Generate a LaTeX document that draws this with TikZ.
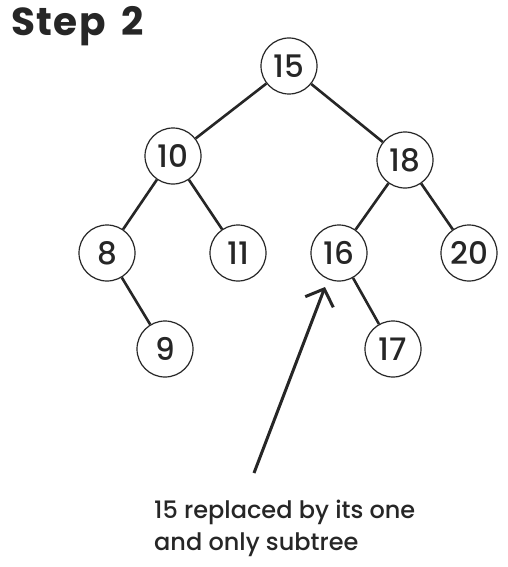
\documentclass[tikz,border=0pt]{standalone}
\usepackage{fontspec}
\setmainfont{Poppins}
\newfontfamily\medfont{Poppins Medium}
\usetikzlibrary{arrows.meta}
\definecolor{ink}{HTML}{262626}
\begin{document}
\begin{tikzpicture}[x=1pt,y=-1pt,
  treenode/.style={circle,draw=ink,line width=1.2pt,minimum size=56pt,inner sep=0pt,fill=white,text=ink,font=\medfont\fontsize{31}{31}\selectfont},
  edge/.style={draw=ink,line width=2.6pt},
  note/.style={anchor=base west,inner sep=0pt,text=ink,font=\medfont\fontsize{24}{24}\selectfont}]
\fill[white] (0,0) rectangle (508,567);
\useasboundingbox (0,0) rectangle (508,567);
\node[anchor=base west,inner sep=0pt,text=ink,font=\fontsize{39}{39}\bfseries] (title) at (11,36) {S\kern1.5pt t\kern1.5pt e\kern1.5pt p\ \kern7pt 2};
\node[treenode] (n15) at (289,66) {15};
\node[treenode] (n10) at (173,156) {10};
\node[treenode] (n18) at (405,160) {18};
\node[treenode] (n8) at (107,253) {8};
\node[treenode] (n11) at (238,253) {11};
\node[treenode] (n16) at (339,253) {16};
\node[treenode] (n20) at (469,253) {20};
\node[treenode] (n9) at (165,349) {9};
\node[treenode] (n17) at (393,349) {17};
\draw[edge] (n15) -- (n10);
\draw[edge] (n15) -- (n18);
\draw[edge] (n10) -- (n8);
\draw[edge] (n10) -- (n11);
\draw[edge] (n18) -- (n16);
\draw[edge] (n18) -- (n20);
\draw[edge] (n8) -- (n9);
\draw[edge] (n16) -- (n17);
\coordinate (tail) at (254,473);
\coordinate (tip) at (325,287);
\draw[edge,line width=3pt,-{Straight Barb[length=14pt,width=30pt]}] (tail) -- (tip);
\node[note] (l1) at (154,518) {15 replaced by its one};
\node[note] (l2) at (154,550) {and only subtree};
\end{tikzpicture}
\end{document}
